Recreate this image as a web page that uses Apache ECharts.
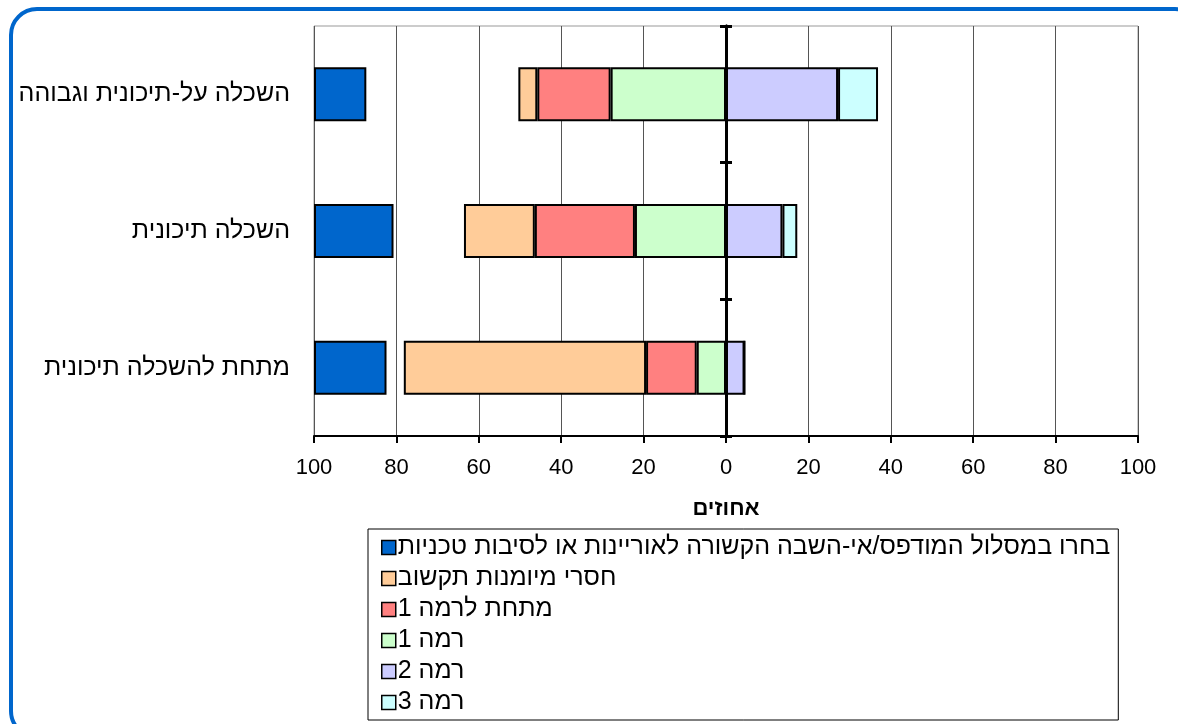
<!DOCTYPE html>
<html>
<head>
<meta charset="utf-8">
<script src="https://cdn.jsdelivr.net/npm/echarts@6/dist/echarts.min.js"></script>
<style>
  html, body { margin: 0; padding: 0; background: #fff; }
  #chart { width: 1178px; height: 724px; }
</style>
</head>
<body>
<div id="chart"></div>
<script>
// categories, bottom to top
const categories = ['מתחת להשכלה תיכונית', 'השכלה תיכונית', 'השכלה על-תיכונית וגבוהה']

// series values (percent)
const choseOther = [17.6, 19.3, 12.7]   // blue, measured from the -100 end
const noSkills = [58.8, 17.2, 4.6]
const belowLevel1 = [12.3, 24.3, 17.8]
const level1 = [7.1, 22.1, 28.0]
const level2 = [4.5, 13.7, 27.2]
const level3 = [0, 3.6, 9.7]

const names = [
  'בחרו במסלול המודפס/אי-השבה הקשורה לאוריינות או לסיבות טכניות',
  'חסרי מיומנות תקשוב',
  'מתחת לרמה 1',
  'רמה 1',
  'רמה 2',
  'רמה 3'
]
const colors = ['#0066CC', '#FFCC99', '#FF8080', '#CCFFCC', '#CCCCFF', '#CCFFFF']

const fontFamily = '"Liberation Sans", Arial, sans-serif'
const barWidth = 54

// transparent spacer between the negative stack and the blue bar
const gap = categories.map((c, i) =>
  100 - choseOther[i] - noSkills[i] - belowLevel1[i] - level1[i])

function barSeries(name, data, color, sign) {
  return {
    name,
    type: 'bar',
    stack: 'total',
    barWidth,
    data: data.map(v => sign * v),
    itemStyle: { color, borderColor: '#000', borderWidth: 2 }
  }
}

const chart = echarts.init(document.getElementById('chart'))

const zeroAxis = inside => ({
  type: 'category',
  data: categories,
  axisLine: { show: true, onZero: true, onZeroAxisIndex: 0, lineStyle: { color: '#000', width: 3 } },
  axisTick: { show: true, inside, length: 6, lineStyle: { color: '#000', width: 3 } },
  axisLabel: { show: false },
  splitLine: { show: false }
})

chart.setOption({
  animation: false,
  textStyle: { fontFamily },
  graphic: [{
    type: 'rect',
    shape: { x: 11, y: 9, width: 1190, height: 728, r: 26 },
    style: { fill: 'none', stroke: '#0066CC', lineWidth: 4 },
    silent: true
  }],
  grid: {
    left: 314, right: 40, top: 26, bottom: 288,
    show: true, borderColor: '#999', borderWidth: 1, backgroundColor: 'transparent'
  },
  legend: {
    data: names,
    orient: 'vertical',
    left: 368,
    top: 529,
    padding: [6, 8, 5, 13],
    icon: 'rect',
    itemWidth: 14,
    itemHeight: 14,
    itemGap: 6,
    borderColor: '#000',
    borderWidth: 1,
    selectedMode: false,
    textStyle: { fontSize: 25, lineHeight: 25, color: '#000', fontFamily, padding: [0, 0, 0, -3] },
    itemStyle: { borderWidth: 1.5, borderColor: '#000' }
  },
  xAxis: {
    type: 'value',
    min: -100,
    max: 100,
    interval: 20,
    axisLine: { show: true, lineStyle: { color: '#000', width: 2 } },
    axisTick: { show: true, length: 7, lineStyle: { color: '#000', width: 2 } },
    axisLabel: {
      color: '#000', fontSize: 22, margin: 21, fontFamily,
      formatter: v => String(Math.abs(v))
    },
    splitLine: { show: true, lineStyle: { color: '#555', width: 1 } },
    name: 'אחוזים',
    nameLocation: 'middle',
    nameGap: 62,
    nameTextStyle: { color: '#000', fontSize: 22, fontWeight: 'bold', fontFamily }
  },
  yAxis: [
    {
      type: 'category',
      data: categories,
      position: 'left',
      axisLine: { show: false, onZero: false },
      axisTick: { show: false },
      axisLabel: { color: '#000', fontSize: 25, margin: 24, fontFamily },
      splitLine: { show: false }
    },
    zeroAxis(false),
    zeroAxis(true)
  ],
  series: [
    barSeries(names[3], level1, colors[3], -1),
    barSeries(names[2], belowLevel1, colors[2], -1),
    barSeries(names[1], noSkills, colors[1], -1),
    {
      name: 'spacer',
      type: 'bar',
      stack: 'total',
      barWidth,
      silent: true,
      data: gap.map(v => -v),
      itemStyle: { color: 'transparent', borderWidth: 0 }
    },
    barSeries(names[0], choseOther, colors[0], -1),
    barSeries(names[4], level2, colors[4], 1),
    barSeries(names[5], level3, colors[5], 1)
  ]
})
</script>
</body>
</html>
